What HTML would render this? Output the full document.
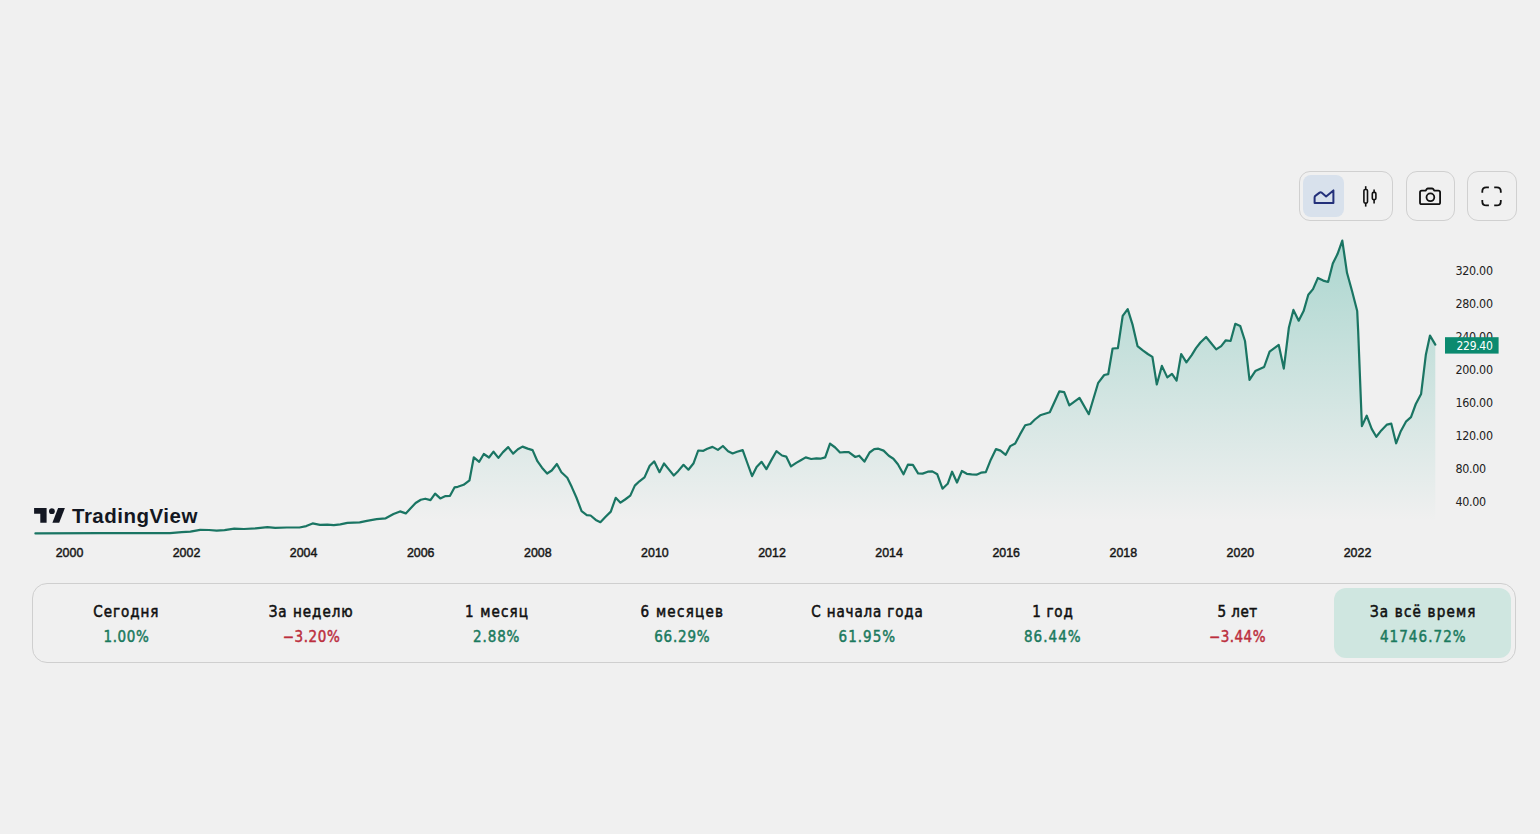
<!DOCTYPE html>
<html lang="ru">
<head>
<meta charset="utf-8">
<title>TradingView chart</title>
<style>
html,body{margin:0;padding:0;background:#f0f0f0;}
body{width:1540px;height:834px;overflow:hidden;position:relative;font-family:"DejaVu Sans Condensed","DejaVu Sans",sans-serif;color:#131313;}
.btn{position:absolute;box-sizing:border-box;border:1px solid #d0d0d0;border-radius:11px;background:#f0f0f0;}
.btn svg{position:absolute;left:0;top:0;}
.act{position:absolute;left:2.8px;top:3px;width:41px;height:41.5px;border-radius:8px;background:#d8e1ec;}
#chart{position:absolute;left:0;top:0;}
.stats{position:absolute;left:32px;top:583px;width:1484px;height:80px;box-sizing:border-box;border:1px solid #cfcfcf;border-radius:15px;}
.cell{position:absolute;top:4px;width:177.3px;height:70px;border-radius:12px;text-align:center;}
.cell.sel{background:#cfe6e0;}
.lab{position:absolute;left:0;right:0;top:15.3px;font-weight:normal;-webkit-text-stroke:0.5px #111;font-size:15px;line-height:18px;white-space:nowrap;color:#111;letter-spacing:0.4px;text-indent:0.4px;}
.val{position:absolute;left:0;right:0;top:40.1px;-webkit-text-stroke:0.45px currentColor;font-size:15px;line-height:18px;white-space:nowrap;letter-spacing:1.1px;text-indent:1.1px;}
.g{color:#1b7a5e;}
.r{color:#bc2f3e;}
</style>
</head>
<body>

<!-- toolbar -->
<div class="btn" style="left:1299px;top:171px;width:94px;height:49.5px;">
  <div class="act"></div>
  <svg width="93" height="49" viewBox="0 0 93 49" style="left:0.5px;">
    <path d="M13.6 30.9 V25.4 Q13.6 24.2 14.6 23.6 L18.6 20.6 Q19.6 19.9 20.5 20.6 L25.1 24.4 L32.4 18.4 V30.9 Z" fill="none" stroke="#23307a" stroke-width="2" stroke-linejoin="round"/>
    <g stroke="#111" stroke-width="1.6" fill="none">
      <line x1="64.7" y1="14.2" x2="64.7" y2="34.6"/>
      <rect x="62.9" y="17.5" width="3.6" height="13.6" rx="1.3" fill="#f0f0f0"/>
      <line x1="73.1" y1="17.6" x2="73.1" y2="31.6"/>
      <rect x="71.3" y="20.4" width="3.6" height="7.2" rx="1.3" fill="#f0f0f0"/>
    </g>
  </svg>
</div>
<div class="btn" style="left:1405.5px;top:171px;width:49.5px;height:49.5px;">
  <svg width="49" height="49" viewBox="0 0 49 49">
    <g fill="none" stroke="#111" stroke-width="1.8" stroke-linejoin="round">
      <path d="M13 20.5 Q13 18.7 14.8 18.7 H18.6 L19.9 16.9 Q20.3 16.5 20.9 16.5 H25.1 Q25.7 16.5 26.1 16.9 L27.4 18.7 H31.3 Q33.1 18.7 33.1 20.5 V30.4 Q33.1 32.2 31.3 32.2 H14.8 Q13 32.2 13 30.4 Z"/>
      <circle cx="23.4" cy="25.3" r="3.9"/>
    </g>
  </svg>
</div>
<div class="btn" style="left:1467px;top:171px;width:49.5px;height:49.5px;">
  <svg width="49" height="49" viewBox="0 0 49 49">
    <g fill="none" stroke="#111" stroke-width="1.8" stroke-linecap="butt">
      <path d="M14.3 20.8 V19.3 Q14.3 15.3 18.3 15.3 H20.9"/>
      <path d="M26.2 15.3 H28.8 Q32.8 15.3 32.8 19.3 V20.8"/>
      <path d="M14.3 27.9 V29.4 Q14.3 33.4 18.3 33.4 H20.9"/>
      <path d="M26.2 33.4 H28.8 Q32.8 33.4 32.8 29.4 V27.9"/>
    </g>
  </svg>
</div>

<svg id="chart" width="1540" height="580" viewBox="0 0 1540 580">
  <defs>
    <linearGradient id="ag" x1="0" y1="235" x2="0" y2="522" gradientUnits="userSpaceOnUse">
      <stop offset="0" stop-color="rgb(8,153,129)" stop-opacity="0.30"/>
      <stop offset="1" stop-color="rgb(8,153,129)" stop-opacity="0.0"/>
    </linearGradient>
  </defs>
  <path d="M35.4 533.4 L100.0 533.1 L150.0 533.2 L170.0 533.2 L181.7 532.2 L190.4 531.6 L200.2 529.8 L209.0 530.0 L216.7 530.6 L224.5 530.2 L234.3 528.7 L244.0 529.0 L255.7 528.3 L267.4 527.2 L275.2 527.8 L286.8 527.5 L299.5 527.5 L306.3 526.1 L312.6 523.4 L320.0 524.9 L327.3 524.7 L333.8 525.2 L340.3 524.4 L347.4 522.9 L359.7 522.3 L366.9 520.8 L376.6 519.2 L385.7 518.3 L393.5 514.0 L400.0 511.4 L405.8 513.4 L415.6 503.0 L420.8 499.7 L425.3 498.7 L430.5 500.1 L435.1 493.6 L440.3 498.4 L445.5 496.1 L450.0 495.8 L454.5 487.4 L457.8 486.8 L463.6 484.8 L469.5 480.3 L473.8 457.3 L479.2 461.8 L483.8 454.0 L489.0 457.5 L493.5 451.7 L498.4 457.9 L503.0 452.1 L508.2 447.1 L513.1 453.6 L517.9 449.2 L522.5 446.6 L527.7 448.6 L532.6 450.1 L537.4 461.2 L542.0 467.7 L547.1 473.5 L551.7 470.5 L556.9 464.0 L561.4 472.2 L567.3 477.8 L571.8 487.1 L576.4 497.5 L581.6 511.2 L586.8 515.1 L590.6 515.5 L595.8 519.9 L600.4 522.2 L605.6 516.8 L610.8 511.6 L615.7 497.8 L620.5 502.7 L625.1 499.5 L630.3 495.6 L634.8 485.6 L639.4 481.3 L644.5 477.4 L649.7 465.7 L654.3 461.4 L659.5 472.2 L664.0 463.5 L669.0 469.6 L673.8 475.5 L678.3 470.9 L683.5 464.8 L688.4 469.7 L693.6 463.2 L698.2 450.5 L703.4 450.8 L707.3 448.8 L712.5 446.9 L717.9 449.9 L722.9 446.0 L728.1 451.2 L732.6 453.5 L737.1 451.8 L742.7 450.1 L747.5 463.5 L752.1 476.1 L756.6 467.0 L761.6 461.8 L766.4 469.1 L771.6 459.6 L776.4 451.2 L782.0 455.5 L786.2 456.6 L791.0 466.4 L796.2 462.9 L800.8 460.3 L805.7 457.4 L811.2 459.0 L816.4 458.3 L820.3 458.7 L825.2 457.4 L830.0 443.6 L835.2 447.5 L840.0 452.5 L844.3 452.2 L848.8 452.2 L855.3 457.0 L859.2 455.7 L864.4 461.6 L869.6 452.5 L874.2 449.2 L878.4 448.7 L883.6 450.6 L888.8 455.8 L893.4 458.7 L897.9 464.3 L903.5 474.3 L907.9 464.7 L912.9 464.9 L918.1 473.4 L922.6 473.6 L927.8 471.7 L932.3 471.4 L937.3 474.3 L942.5 488.7 L947.7 483.8 L952.1 471.7 L957.0 482.5 L961.9 471.0 L966.8 473.8 L971.6 474.3 L976.5 474.7 L981.0 472.7 L985.8 472.1 L990.8 459.7 L996.0 449.1 L1000.5 450.6 L1005.7 454.8 L1010.3 446.1 L1015.2 443.5 L1020.0 434.4 L1025.2 425.3 L1030.4 424.0 L1034.9 419.5 L1040.2 415.3 L1049.8 412.3 L1059.4 391.3 L1064.2 392.2 L1069.3 405.4 L1079.5 397.9 L1088.8 414.2 L1098.2 382.8 L1104.2 375.0 L1108.2 374.2 L1112.6 348.5 L1117.9 348.2 L1122.7 315.9 L1127.7 309.1 L1132.7 325.2 L1137.5 346.1 L1142.8 350.4 L1147.8 354.0 L1152.4 356.9 L1156.8 384.5 L1161.9 365.9 L1167.3 377.4 L1172.0 373.8 L1176.6 380.6 L1181.2 354.0 L1186.4 362.3 L1191.7 355.1 L1196.0 348.2 L1200.4 342.5 L1206.1 337.0 L1211.2 343.2 L1216.2 349.4 L1221.2 346.1 L1225.8 340.3 L1230.6 341.0 L1235.3 323.8 L1240.2 325.9 L1245.0 341.0 L1249.5 379.8 L1255.3 371.1 L1264.1 367.0 L1269.6 351.7 L1278.7 344.8 L1283.8 368.6 L1288.9 327.5 L1293.4 309.9 L1298.7 320.7 L1303.6 311.1 L1308.3 294.8 L1313.0 289.1 L1317.9 277.9 L1323.2 280.6 L1328.1 282.0 L1332.8 263.6 L1337.5 254.1 L1342.3 240.6 L1347.0 272.8 L1352.1 291.2 L1357.2 311.1 L1358.2 331.9 L1361.9 426.1 L1366.7 415.7 L1371.7 428.9 L1376.3 436.8 L1381.3 430.4 L1387.0 424.6 L1391.3 423.7 L1396.1 443.3 L1400.5 431.8 L1406.2 421.3 L1411.0 417.2 L1415.8 404.0 L1421.1 393.9 L1425.9 354.4 L1430.0 335.6 L1435.3 344.6 L1435.3 528 L35.4 528 Z" fill="url(#ag)"/>
  <path d="M35.4 533.4 L100.0 533.1 L150.0 533.2 L170.0 533.2 L181.7 532.2 L190.4 531.6 L200.2 529.8 L209.0 530.0 L216.7 530.6 L224.5 530.2 L234.3 528.7 L244.0 529.0 L255.7 528.3 L267.4 527.2 L275.2 527.8 L286.8 527.5 L299.5 527.5 L306.3 526.1 L312.6 523.4 L320.0 524.9 L327.3 524.7 L333.8 525.2 L340.3 524.4 L347.4 522.9 L359.7 522.3 L366.9 520.8 L376.6 519.2 L385.7 518.3 L393.5 514.0 L400.0 511.4 L405.8 513.4 L415.6 503.0 L420.8 499.7 L425.3 498.7 L430.5 500.1 L435.1 493.6 L440.3 498.4 L445.5 496.1 L450.0 495.8 L454.5 487.4 L457.8 486.8 L463.6 484.8 L469.5 480.3 L473.8 457.3 L479.2 461.8 L483.8 454.0 L489.0 457.5 L493.5 451.7 L498.4 457.9 L503.0 452.1 L508.2 447.1 L513.1 453.6 L517.9 449.2 L522.5 446.6 L527.7 448.6 L532.6 450.1 L537.4 461.2 L542.0 467.7 L547.1 473.5 L551.7 470.5 L556.9 464.0 L561.4 472.2 L567.3 477.8 L571.8 487.1 L576.4 497.5 L581.6 511.2 L586.8 515.1 L590.6 515.5 L595.8 519.9 L600.4 522.2 L605.6 516.8 L610.8 511.6 L615.7 497.8 L620.5 502.7 L625.1 499.5 L630.3 495.6 L634.8 485.6 L639.4 481.3 L644.5 477.4 L649.7 465.7 L654.3 461.4 L659.5 472.2 L664.0 463.5 L669.0 469.6 L673.8 475.5 L678.3 470.9 L683.5 464.8 L688.4 469.7 L693.6 463.2 L698.2 450.5 L703.4 450.8 L707.3 448.8 L712.5 446.9 L717.9 449.9 L722.9 446.0 L728.1 451.2 L732.6 453.5 L737.1 451.8 L742.7 450.1 L747.5 463.5 L752.1 476.1 L756.6 467.0 L761.6 461.8 L766.4 469.1 L771.6 459.6 L776.4 451.2 L782.0 455.5 L786.2 456.6 L791.0 466.4 L796.2 462.9 L800.8 460.3 L805.7 457.4 L811.2 459.0 L816.4 458.3 L820.3 458.7 L825.2 457.4 L830.0 443.6 L835.2 447.5 L840.0 452.5 L844.3 452.2 L848.8 452.2 L855.3 457.0 L859.2 455.7 L864.4 461.6 L869.6 452.5 L874.2 449.2 L878.4 448.7 L883.6 450.6 L888.8 455.8 L893.4 458.7 L897.9 464.3 L903.5 474.3 L907.9 464.7 L912.9 464.9 L918.1 473.4 L922.6 473.6 L927.8 471.7 L932.3 471.4 L937.3 474.3 L942.5 488.7 L947.7 483.8 L952.1 471.7 L957.0 482.5 L961.9 471.0 L966.8 473.8 L971.6 474.3 L976.5 474.7 L981.0 472.7 L985.8 472.1 L990.8 459.7 L996.0 449.1 L1000.5 450.6 L1005.7 454.8 L1010.3 446.1 L1015.2 443.5 L1020.0 434.4 L1025.2 425.3 L1030.4 424.0 L1034.9 419.5 L1040.2 415.3 L1049.8 412.3 L1059.4 391.3 L1064.2 392.2 L1069.3 405.4 L1079.5 397.9 L1088.8 414.2 L1098.2 382.8 L1104.2 375.0 L1108.2 374.2 L1112.6 348.5 L1117.9 348.2 L1122.7 315.9 L1127.7 309.1 L1132.7 325.2 L1137.5 346.1 L1142.8 350.4 L1147.8 354.0 L1152.4 356.9 L1156.8 384.5 L1161.9 365.9 L1167.3 377.4 L1172.0 373.8 L1176.6 380.6 L1181.2 354.0 L1186.4 362.3 L1191.7 355.1 L1196.0 348.2 L1200.4 342.5 L1206.1 337.0 L1211.2 343.2 L1216.2 349.4 L1221.2 346.1 L1225.8 340.3 L1230.6 341.0 L1235.3 323.8 L1240.2 325.9 L1245.0 341.0 L1249.5 379.8 L1255.3 371.1 L1264.1 367.0 L1269.6 351.7 L1278.7 344.8 L1283.8 368.6 L1288.9 327.5 L1293.4 309.9 L1298.7 320.7 L1303.6 311.1 L1308.3 294.8 L1313.0 289.1 L1317.9 277.9 L1323.2 280.6 L1328.1 282.0 L1332.8 263.6 L1337.5 254.1 L1342.3 240.6 L1347.0 272.8 L1352.1 291.2 L1357.2 311.1 L1358.2 331.9 L1361.9 426.1 L1366.7 415.7 L1371.7 428.9 L1376.3 436.8 L1381.3 430.4 L1387.0 424.6 L1391.3 423.7 L1396.1 443.3 L1400.5 431.8 L1406.2 421.3 L1411.0 417.2 L1415.8 404.0 L1421.1 393.9 L1425.9 354.4 L1430.0 335.6 L1435.3 344.6" fill="none" stroke="#1a7563" stroke-width="2.2" stroke-linejoin="round" stroke-linecap="round"/>

  <!-- logo -->
  <g fill="#131722">
    <path d="M34.1 508.1 H46.6 V522.8 H40.3 V513.7 H34.1 Z"/>
    <path d="M58.1 508.1 H64.9 L59.2 522.8 H52.4 Z"/>
    <circle cx="51.9" cy="511.2" r="2.9"/>
  </g>
  <text x="72" y="522.7" font-family="Liberation Sans, sans-serif" font-weight="bold" font-size="20.5" letter-spacing="0.5" fill="#131722">TradingView</text>

  <!-- price axis -->
  <g font-family="DejaVu Sans Condensed, DejaVu Sans, sans-serif" font-size="12.4" letter-spacing="-0.3" fill="#222">
    <text x="1455.5" y="275.3">320.00</text>
    <text x="1455.5" y="308.3">280.00</text>
    <text x="1455.5" y="341.3">240.00</text>
    <text x="1455.5" y="374.3">200.00</text>
    <text x="1455.5" y="407.3">160.00</text>
    <text x="1455.5" y="440.3">120.00</text>
    <text x="1455.5" y="473.3">80.00</text>
    <text x="1455.5" y="506.3">40.00</text>
  </g>
  <rect x="1445" y="337.2" width="53.6" height="16.4" fill="#0b8a6f"/>
  <text x="1492.5" y="349.9" text-anchor="end" font-family="DejaVu Sans Condensed, DejaVu Sans, sans-serif" font-size="12" letter-spacing="-0.3" fill="#ffffff">229.40</text>

  <!-- time axis -->
  <g font-family="Liberation Sans, sans-serif" font-weight="normal" font-size="12.4" fill="#161616" stroke="#161616" stroke-width="0.45" text-anchor="middle">
    <text x="69.5" y="556.9">2000</text>
    <text x="186.5" y="556.9">2002</text>
    <text x="303.6" y="556.9">2004</text>
    <text x="420.7" y="556.9">2006</text>
    <text x="537.8" y="556.9">2008</text>
    <text x="654.9" y="556.9">2010</text>
    <text x="772" y="556.9">2012</text>
    <text x="889.1" y="556.9">2014</text>
    <text x="1006.2" y="556.9">2016</text>
    <text x="1123.3" y="556.9">2018</text>
    <text x="1240.4" y="556.9">2020</text>
    <text x="1357.5" y="556.9">2022</text>
  </g>
</svg>

<!-- stats -->
<div class="stats">
  <div class="cell" style="left:3.45px;"><div class="lab" style="letter-spacing:0.94px;text-indent:0.94px;margin-left:1.44px;">Сегодня</div><div class="val g" style="letter-spacing:0.65px;text-indent:0.65px;margin-left:2.16px;">1.00%</div></div>
  <div class="cell" style="left:188.81px;"><div class="lab" style="letter-spacing:1.01px;text-indent:1.01px;margin-left:0.54px;">За неделю</div><div class="val r" style="letter-spacing:0.56px;text-indent:0.56px;margin-left:1.62px;">−3.20%</div></div>
  <div class="cell" style="left:374.17px;"><div class="lab" style="letter-spacing:1.12px;text-indent:1.12px;margin-left:1.44px;">1 месяц</div><div class="val g" style="letter-spacing:0.88px;text-indent:0.88px;margin-left:0.90px;">2.88%</div></div>
  <div class="cell" style="left:559.53px;"><div class="lab" style="letter-spacing:1.28px;text-indent:1.28px;margin-left:1.26px;">6 месяцев</div><div class="val g" style="letter-spacing:0.81px;text-indent:0.81px;margin-left:1.44px;">66.29%</div></div>
  <div class="cell" style="left:744.89px;"><div class="lab" style="letter-spacing:0.85px;text-indent:0.85px;margin-left:1.08px;">С начала года</div><div class="val g" style="letter-spacing:1.03px;text-indent:1.03px;margin-left:0.72px;">61.95%</div></div>
  <div class="cell" style="left:930.25px;"><div class="lab" style="letter-spacing:0.76px;text-indent:0.76px;margin-left:1.08px;">1 год</div><div class="val g" style="letter-spacing:1.06px;text-indent:1.06px;margin-left:0.90px;">86.44%</div></div>
  <div class="cell" style="left:1115.61px;"><div class="lab" style="letter-spacing:0.53px;text-indent:0.53px;margin-left:0.18px;">5 лет</div><div class="val r" style="letter-spacing:0.45px;text-indent:0.45px;margin-left:0.00px;">−3.44%</div></div>
  <div class="cell sel" style="left:1300.97px;"><div class="lab" style="letter-spacing:1.20px;text-indent:1.20px;margin-left:0.18px;">За всё время</div><div class="val g" style="letter-spacing:1.06px;text-indent:1.06px;margin-left:0.36px;">41746.72%</div></div>
</div>
</body>
</html>
